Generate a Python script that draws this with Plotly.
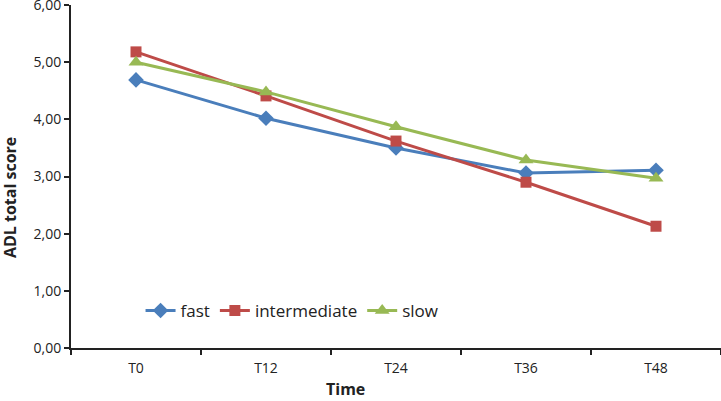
import plotly.graph_objects as go

categories = ["T0", "T12", "T24", "T36", "T48"]
fast = [4.69, 4.02, 3.50, 3.06, 3.11]
intermediate = [5.18, 4.41, 3.62, 2.90, 2.13]
slow = [5.00, 4.48, 3.87, 3.29, 2.97]

fig = go.Figure()
fig.add_trace(go.Scatter(x=categories, y=fast, name="fast", mode="lines+markers",
                         line=dict(color="#4A7EBB", width=3),
                         marker=dict(symbol="diamond", size=12, color="#4A7EBB")))
fig.add_trace(go.Scatter(x=categories, y=intermediate, name="intermediate", mode="lines+markers",
                         line=dict(color="#BE4B48", width=3),
                         marker=dict(symbol="square", size=11, color="#BE4B48")))
fig.add_trace(go.Scatter(x=categories, y=slow, name="slow", mode="lines+markers",
                         line=dict(color="#98B954", width=3),
                         marker=dict(symbol="triangle-up", size=13, color="#98B954")))

font_family = "Open Sans, Liberation Sans, sans-serif"
fig.update_layout(
    width=721, height=401,
    margin=dict(l=71, r=0, t=5, b=53, autoexpand=False),
    paper_bgcolor="white", plot_bgcolor="white",
    separators=",.",
    font=dict(family=font_family, size=13, color="#222222"),
    showlegend=True,
    legend=dict(orientation="h", x=0.107, xanchor="left", y=0.108, yanchor="middle",
                font=dict(size=17, color="#222222"), bgcolor="rgba(0,0,0,0)",
                tracegroupgap=0),
    xaxis=dict(type="category", range=[-0.5, 4.5], showline=True, linecolor="#222222", linewidth=2,
               ticks="outside", tickson="boundaries", ticklen=5, tickcolor="#222222", tickwidth=2,
               showgrid=False, zeroline=False, automargin=False, ticklabelstandoff=6,
               tickfont=dict(size=14)),
    yaxis=dict(range=[0, 6], dtick=1, tickformat=".2f", showline=True, linecolor="#222222", linewidth=2,
               ticks="outside", ticklen=5, tickcolor="#222222", tickwidth=2,
               showgrid=False, zeroline=False, automargin=False, ticklabeloverflow="allow",
               tickfont=dict(size=14)),
    annotations=[
        dict(text="<b>Time</b>", x=0.423, xref="paper", y=-(389 - 348) / 343, yref="paper",
             yanchor="middle", showarrow=False, font=dict(size=16)),
        dict(text="<b>ADL total score</b>", x=-(71 - 10) / 650, xref="paper", y=0.437, yref="paper",
             xanchor="center", yanchor="middle", textangle=-90, showarrow=False, font=dict(size=16)),
    ],
)

fig.write_html("out.html", config={"displayModeBar": False},
               post_script="document.body.style.margin='0';document.body.style.overflow='hidden';")
